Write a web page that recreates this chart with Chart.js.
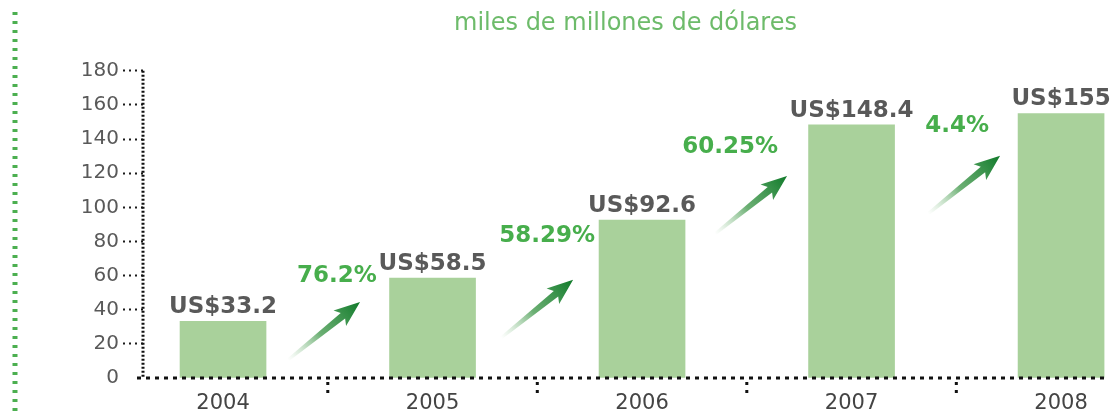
<!DOCTYPE html>
<html>
<head>
<meta charset="utf-8">
<script src="https://cdn.jsdelivr.net/npm/chart.js@4"></script>
<style>
    html, body { margin: 0; padding: 0; background: #fff; }
    #wrap { width: 1110px; height: 420px; }
</style>
</head>
<body>
<div id="wrap"><canvas id="grafica" width="1110" height="420"></canvas></div>
<script>
// datos
const anios = [2004, 2005, 2006, 2007, 2008];
const valores = [33.2, 58.5, 92.6, 148.4, 155];
const crecimiento = [76.2, 58.29, 60.25, 4.4];
const ticksY = [0, 20, 40, 60, 80, 100, 120, 140, 160, 180];
const titulo = "miles de millones de dólares";

const VERDE_BARRA = "#a9d19b";
const VERDE_TEXTO = "#47ae4c";
const GRIS = "#595959";

function dibujarFlecha(ctx, x0, y0, x1, y1) {
    const dx = x1 - x0, dy = y1 - y0, len = Math.hypot(dx, dy);
    const ux = dx / len, uy = dy / len, nx = -uy, ny = ux;
    const cabeza = 22, ancho = 10;
    const bx = x1 - ux * cabeza, by = y1 - uy * cabeza;
    const grad = ctx.createLinearGradient(x0, y0, x1, y1);
    grad.addColorStop(0, "rgba(150,200,150,0)");
    grad.addColorStop(0.45, "rgba(70,155,80,0.8)");
    grad.addColorStop(1, "#107a2a");
    ctx.fillStyle = grad;
    ctx.beginPath();
    ctx.moveTo(x0 + nx * 1.5, y0 + ny * 1.5);
    ctx.lineTo(bx + nx * 3.5, by + ny * 3.5);
    ctx.lineTo(bx - ux * 4 + nx * ancho, by - uy * 4 + ny * ancho);
    ctx.lineTo(x1, y1);
    ctx.lineTo(bx - ux * 4 - nx * ancho, by - uy * 4 - ny * ancho);
    ctx.lineTo(bx - nx * 3.5, by - ny * 3.5);
    ctx.lineTo(x0 - nx * 1.5, y0 - ny * 1.5);
    ctx.closePath();
    ctx.fill();
}

const decoracion = {
    id: "decoracion",
    afterDraw(chart, args, opts) {
        const ctx = chart.ctx;
        const xs = chart.scales.x, ys = chart.scales.y;
        const area = chart.chartArea;
        ctx.save();

        // linea punteada verde a la izquierda
        ctx.strokeStyle = "#4caf50";
        ctx.lineWidth = 5;
        ctx.setLineDash([3, 6]);
        ctx.beginPath();
        ctx.moveTo(15, 12);
        ctx.lineTo(15, 416);
        ctx.stroke();

        // ejes punteados
        ctx.strokeStyle = "#111";
        ctx.lineWidth = 3;
        ctx.setLineDash([2, 2]);
        ctx.beginPath();
        ctx.moveTo(area.left, area.top);
        ctx.lineTo(area.left, area.bottom);
        ctx.stroke();
        ctx.lineWidth = 3;
        ctx.setLineDash([4, 5]);
        ctx.beginPath();
        ctx.moveTo(area.left - 6, area.bottom);
        ctx.lineTo(area.right, area.bottom);
        ctx.stroke();

        // separadores bajo el eje x
        ctx.setLineDash([3, 5]);
        for (let i = 0; i < anios.length - 1; i++) {
            const x = xs.getPixelForValue(anios[i] + 0.5);
            ctx.beginPath();
            ctx.moveTo(x, area.bottom + 4);
            ctx.lineTo(x, area.bottom + 19);
            ctx.stroke();
        }
        ctx.setLineDash([]);

        // etiquetas de valor
        ctx.font = "bold 23px 'DejaVu Sans'";
        ctx.fillStyle = GRIS;
        ctx.textAlign = "center";
        ctx.textBaseline = "alphabetic";
        chart.getDatasetMeta(0).data.forEach((el, i) => {
            ctx.fillText("US$" + valores[i], el.x, el.y - 8);
        });

        // flechas y porcentajes
        opts.flechas.forEach(f => {
            const x1 = xs.getPixelForValue(f.x), y1 = ys.getPixelForValue(f.y);
            dibujarFlecha(ctx, x1 - 72, y1 + 58, x1, y1);
        });
        ctx.font = "bold 23px 'DejaVu Sans'";
        ctx.fillStyle = VERDE_TEXTO;
        ctx.textBaseline = "middle";
        opts.textos.forEach((t, i) => {
            ctx.fillText(crecimiento[i] + "%", xs.getPixelForValue(t.x), ys.getPixelForValue(t.y));
        });
        ctx.restore();
    }
};

new Chart(document.getElementById("grafica"), {
    type: "bar",
    data: {
        datasets: [{
            data: anios.map((a, i) => ({ x: a, y: valores[i] })),
            backgroundColor: VERDE_BARRA,
            borderWidth: 0,
            barThickness: 86
        }]
    },
    options: {
        responsive: false,
        animation: false,
        devicePixelRatio: 1,
        layout: { padding: { left: 0, right: 2, top: 0, bottom: 0 } },
        plugins: {
            legend: { display: false },
            tooltip: { enabled: false },
            title: {
                display: true,
                text: titulo,
                color: "#6dbb6a",
                fullSize: false,
                font: { family: "DejaVu Sans", size: 24, weight: "normal" },
                padding: { top: 9, bottom: 33 }
            },
            decoracion: {
                // posiciones de las anotaciones en unidades de los ejes
                flechas: [
                    { x: 2004.654, y: 44.6 }, { x: 2005.671, y: 57.5 },
                    { x: 2006.692, y: 118.4 }, { x: 2007.709, y: 130.2 }
                ],
                textos: [
                    { x: 2004.544, y: 59.8 }, { x: 2005.547, y: 83.3 },
                    { x: 2006.42, y: 135.4 }, { x: 2007.504, y: 147.7 }
                ]
            }
        },
        scales: {
            x: {
                type: "linear",
                offset: false,
                min: 2003.618,
                max: 2008.224,
                afterBuildTicks: s => { s.ticks = anios.map(v => ({ value: v })); },
                afterFit: s => { s.height = 42; },
                grid: { display: false, drawTicks: false },
                border: { display: false },
                ticks: {
                    color: "#444",
                    font: { family: "DejaVu Sans", size: 21 },
                    padding: 13,
                    maxRotation: 0,
                    callback: v => String(v)
                }
            },
            y: {
                min: 0,
                max: 180,
                afterBuildTicks: s => { s.ticks = ticksY.map(v => ({ value: v })); },
                afterFit: s => { s.width = 143; },
                grid: {
                    display: true,
                    drawOnChartArea: false,
                    drawTicks: true,
                    tickLength: 20,
                    tickWidth: 2,
                    tickColor: c => (c.tick && c.tick.value === 0) ? "rgba(0,0,0,0)" : "#1a1a1a",
                    tickBorderDash: [2, 4]
                },
                border: { display: false },
                ticks: {
                    color: GRIS,
                    font: { family: "DejaVu Sans", size: 20 },
                    padding: 4
                }
            }
        }
    },
    plugins: [decoracion]
});
</script>
</body>
</html>
